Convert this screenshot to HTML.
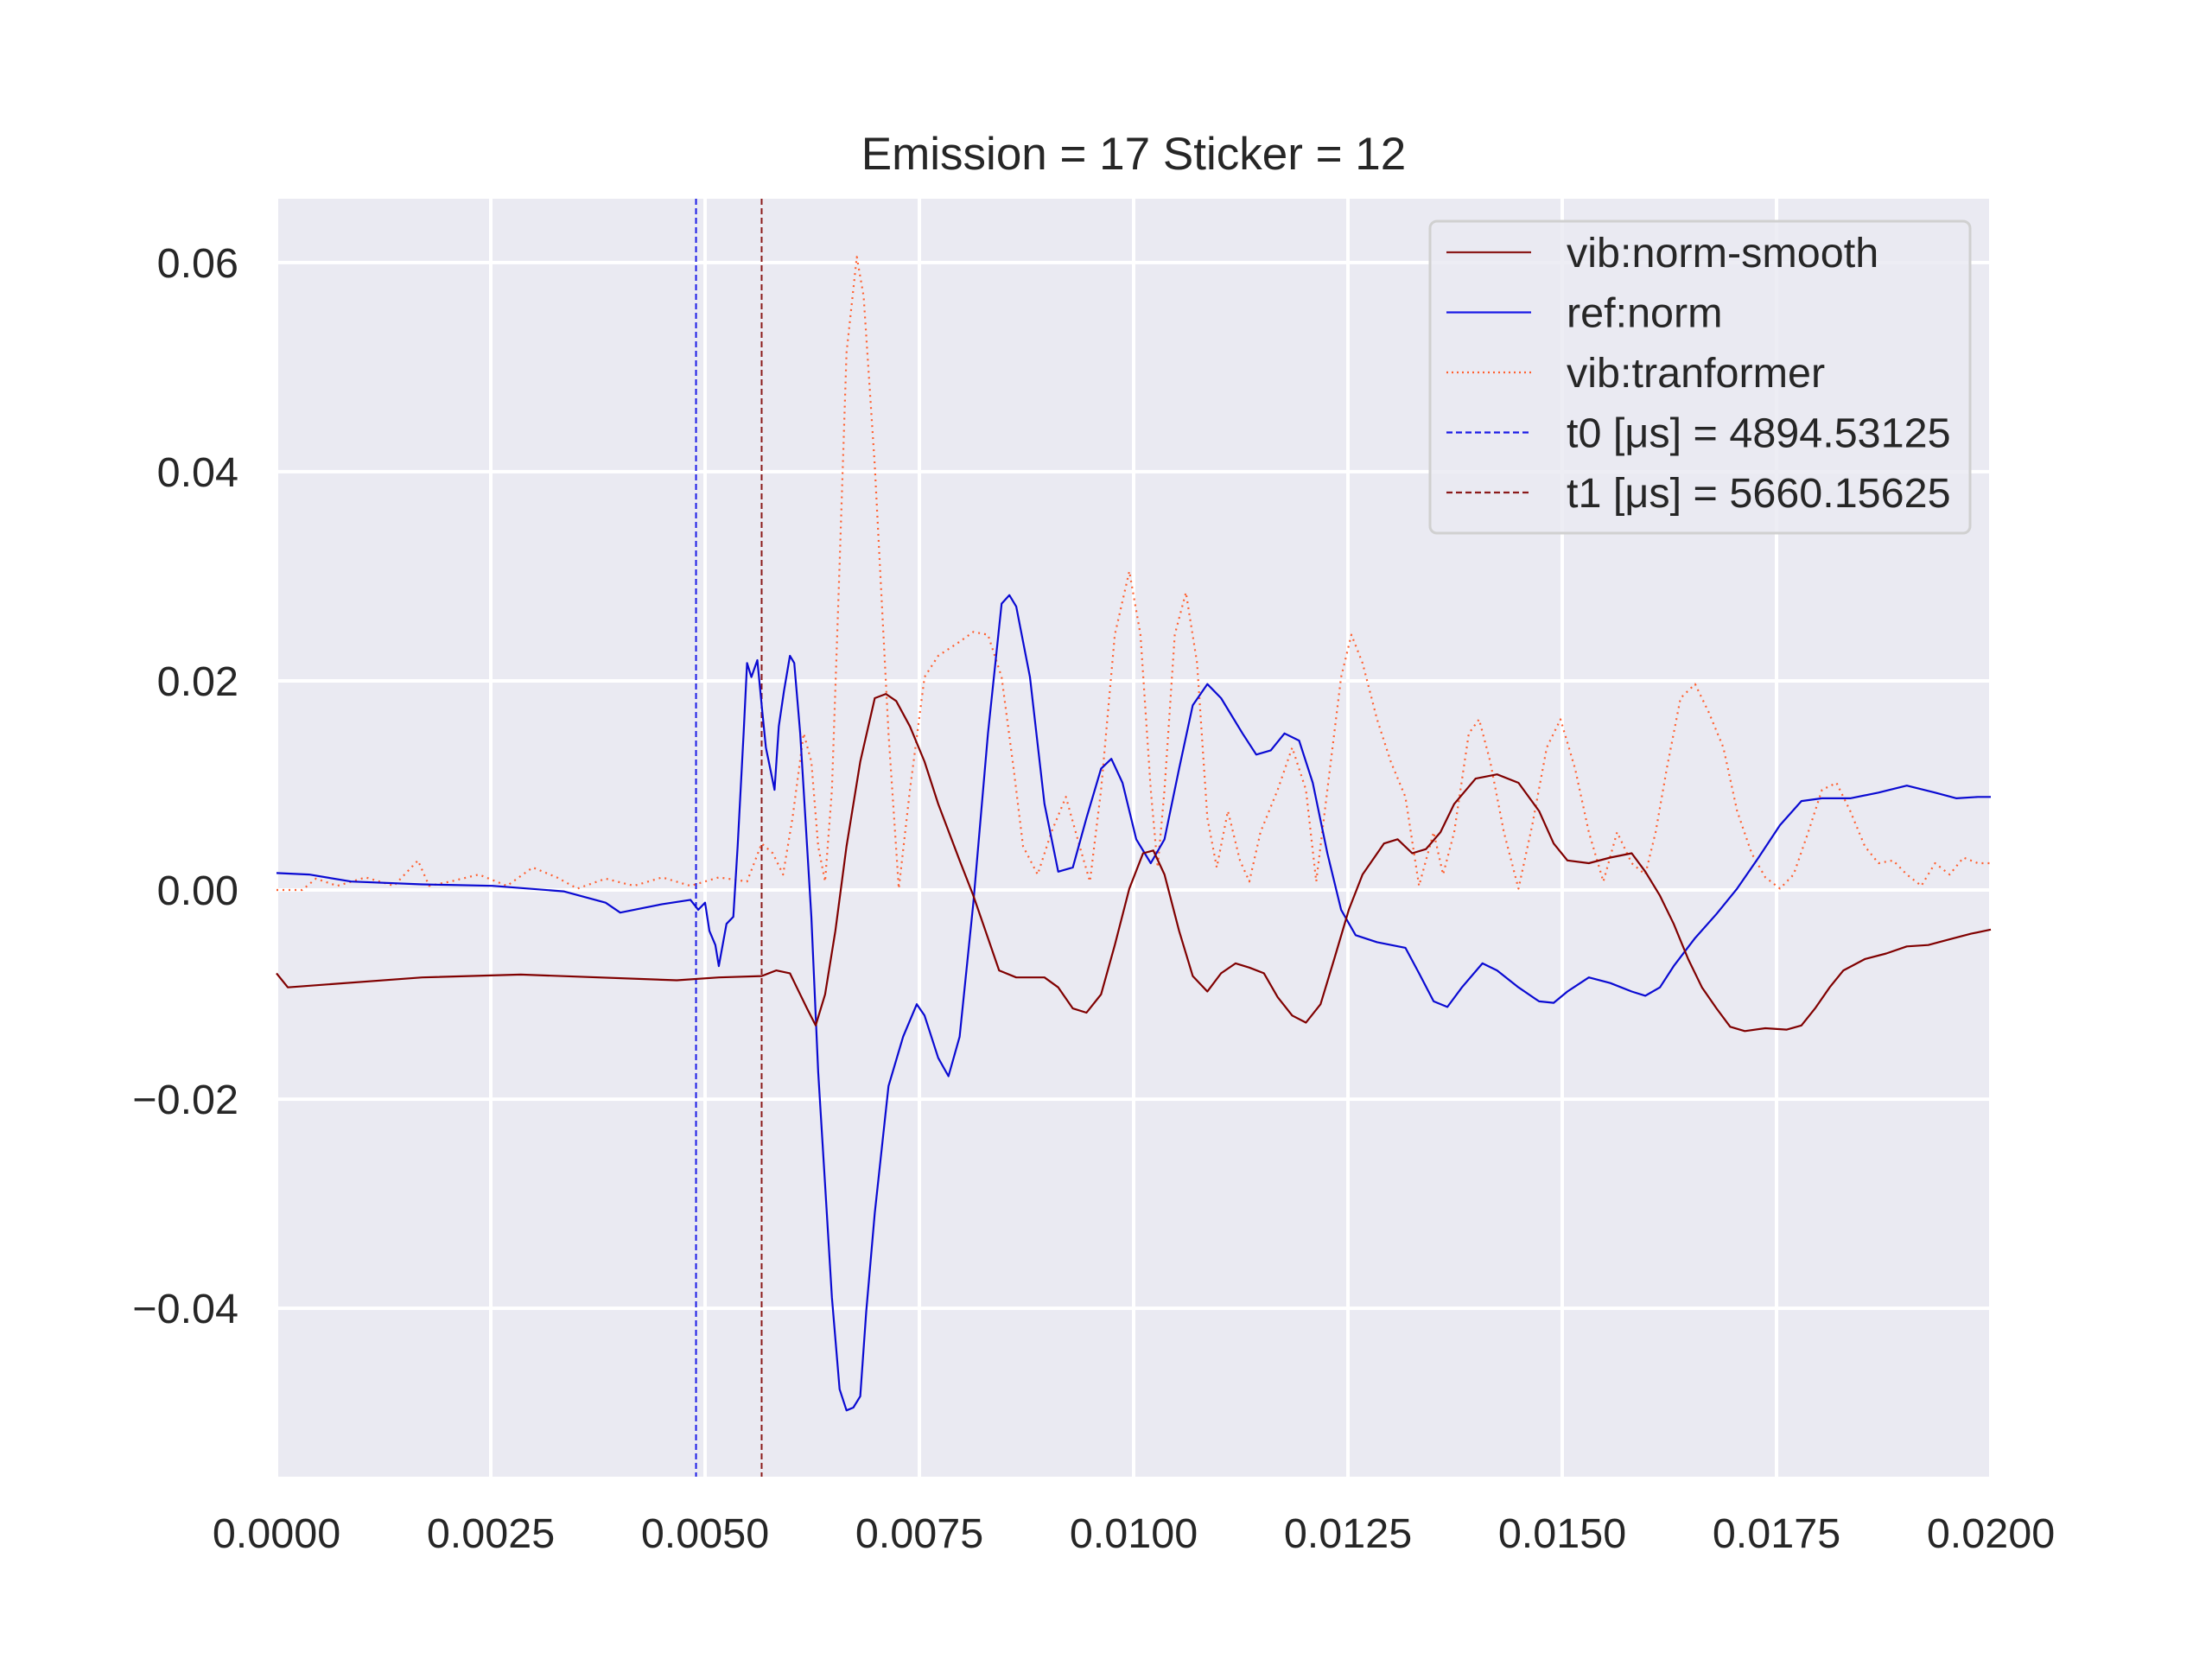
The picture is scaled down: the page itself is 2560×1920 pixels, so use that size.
<!DOCTYPE html>
<html><head><meta charset="utf-8"><style>
html,body{margin:0;padding:0;background:#fff;}
svg{display:block;font-family:"Liberation Sans",sans-serif;}
</style></head><body>
<svg id="chart" width="2560" height="1920" viewBox="0 0 2560 1920" xmlns="http://www.w3.org/2000/svg">
<rect width="2560" height="1920" fill="#fff"/>
<text x="1312" y="196" font-size="53" fill="#262626" text-anchor="middle">Emission = 17 Sticker = 12</text>
<rect x="320" y="230" width="1984" height="1479" fill="#EAEAF2"/>
<g id="grid"></g>
<g id="ticks"></g>
<g id="series"></g>
<g id="legend"></g>
</svg>
<script>
// x values in milliseconds, y values in units of 1e-3
const smoothX=[0,0.132,1.70,2.85,4.67,5.16,5.66,5.83,5.99,6.07,6.19,6.29,6.40,6.52,6.65,6.81,6.98,7.11,7.23,7.39,7.56,7.72,7.97,8.13,8.30,8.43,8.63,8.96,9.12,9.29,9.45,9.62,9.78,9.95,10.11,10.23,10.36,10.53,10.69,10.86,11.02,11.19,11.35,11.52,11.68,11.85,12.01,12.18,12.34,12.51,12.67,12.92,13.08,13.25,13.41,13.58,13.74,13.99,14.24,14.49,14.73,14.90,15.06,15.31,15.56,15.81,15.97,16.14,16.30,16.47,16.63,16.80,16.96,17.13,17.37,17.62,17.79,17.95,18.12,18.28,18.53,18.78,19.02,19.27,19.52,19.77,20.0];
const smoothY=[-7.96,-9.31,-8.36,-8.09,-8.63,-8.36,-8.23,-7.69,-7.96,-9.31,-11.33,-12.95,-9.98,-3.91,4.18,12.27,18.34,18.75,18.07,15.64,12.27,8.23,2.83,-0.54,-4.59,-7.69,-8.36,-8.36,-9.31,-11.33,-11.73,-9.98,-5.26,0.13,3.51,3.78,1.48,-3.91,-8.23,-9.71,-7.96,-7.01,-7.42,-7.96,-10.25,-12.00,-12.68,-10.92,-6.61,-1.89,1.48,4.45,4.85,3.51,3.91,5.53,8.23,10.65,11.06,10.25,7.55,4.45,2.83,2.56,3.10,3.51,1.75,-0.54,-3.24,-6.61,-9.31,-11.33,-13.08,-13.49,-13.22,-13.35,-12.95,-11.33,-9.31,-7.69,-6.61,-6.07,-5.39,-5.26,-4.72,-4.18,-3.78];
const refX=[0,0.38,0.87,1.70,2.52,3.35,3.84,4.01,4.26,4.50,4.83,4.92,5.00,5.05,5.12,5.16,5.25,5.33,5.38,5.45,5.49,5.54,5.61,5.66,5.71,5.76,5.81,5.86,5.92,5.99,6.04,6.11,6.15,6.24,6.32,6.40,6.48,6.57,6.65,6.73,6.81,6.88,6.98,7.14,7.31,7.47,7.56,7.72,7.84,7.97,8.13,8.30,8.46,8.55,8.63,8.79,8.96,9.12,9.29,9.45,9.62,9.74,9.87,10.03,10.20,10.36,10.53,10.69,10.86,11.02,11.27,11.43,11.60,11.76,11.93,12.09,12.26,12.42,12.59,12.84,13.17,13.33,13.50,13.66,13.83,14.07,14.24,14.49,14.73,14.90,15.06,15.31,15.56,15.81,15.97,16.14,16.30,16.55,16.80,17.04,17.29,17.54,17.79,18.03,18.36,18.69,19.02,19.35,19.60,19.85,20.0];
const refY=[1.62,1.48,0.81,0.54,0.40,-0.13,-1.21,-2.16,-1.75,-1.35,-0.94,-1.89,-1.21,-3.91,-5.26,-7.28,-3.24,-2.56,4.18,14.97,21.71,20.36,21.98,17.67,13.62,11.60,9.58,15.64,19.02,22.39,21.71,14.97,9.58,-2.56,-17.40,-28.19,-38.97,-47.74,-49.76,-49.49,-48.41,-40.32,-30.88,-18.75,-14.03,-10.92,-12.00,-16.05,-17.80,-14.03,-1.21,14.97,27.38,28.19,27.11,20.36,8.23,1.75,2.16,6.88,11.60,12.54,10.25,4.85,2.56,4.85,11.60,17.67,19.69,18.34,14.97,12.95,13.35,14.97,14.29,10.25,3.51,-1.89,-4.32,-4.99,-5.53,-7.96,-10.65,-11.19,-9.31,-7.01,-7.69,-9.31,-10.65,-10.79,-9.71,-8.36,-8.90,-9.71,-10.11,-9.31,-7.28,-4.59,-2.29,0.13,3.10,6.20,8.50,8.77,8.77,9.31,9.98,9.31,8.77,8.90,8.90];
const trX=[0,0.30,0.46,0.71,1.04,1.37,1.65,1.78,2.03,2.36,2.69,2.99,3.27,3.51,3.84,4.17,4.50,4.83,5.16,5.49,5.66,5.79,5.91,6.02,6.15,6.24,6.32,6.40,6.48,6.57,6.65,6.77,6.85,6.98,7.14,7.26,7.39,7.56,7.72,7.97,8.13,8.30,8.46,8.60,8.71,8.88,9.04,9.21,9.37,9.49,9.62,9.78,9.95,10.08,10.20,10.28,10.36,10.48,10.61,10.74,10.86,10.97,11.10,11.24,11.35,11.48,11.68,11.85,12.01,12.13,12.26,12.42,12.54,12.67,12.84,13.00,13.17,13.33,13.50,13.61,13.74,13.91,14.03,14.16,14.32,14.49,14.65,14.82,14.98,15.15,15.31,15.48,15.64,15.81,15.97,16.09,16.22,16.38,16.55,16.71,16.88,17.04,17.21,17.37,17.54,17.70,17.87,18.03,18.20,18.36,18.53,18.69,18.86,19.02,19.19,19.35,19.52,19.68,19.85,20.0];
const trY=[0,0,1.08,0.40,1.21,0.40,2.83,0.40,0.81,1.48,0.40,2.16,1.21,0.13,1.08,0.40,1.21,0.40,1.21,0.81,4.45,3.51,1.48,6.88,14.97,12.27,4.18,0.81,9.58,31.15,51.38,60.55,56.78,40.59,14.97,0.13,9.58,20.36,22.39,23.74,24.68,24.41,20.36,11.60,4.18,1.48,5.53,8.90,4.18,0.81,9.58,24.41,30.48,24.41,9.58,2.16,9.58,24.41,28.46,21.71,6.88,2.16,7.55,2.83,0.81,5.53,9.58,13.62,9.58,0.81,9.58,20.36,24.41,21.71,16.32,12.27,8.90,0.40,5.53,1.48,5.53,14.97,16.32,12.27,5.53,0.13,6.20,13.62,16.32,11.60,5.53,0.81,5.53,2.56,1.48,5.53,11.60,18.34,19.69,16.99,13.62,7.55,3.51,1.21,0.13,1.48,5.53,9.58,10.25,7.55,4.18,2.56,2.83,1.48,0.40,2.56,1.48,3.10,2.56,2.56];
const xTicks=[0,0.0025,0.005,0.0075,0.01,0.0125,0.015,0.0175,0.02];
const xTickLabels=["0.0000","0.0025","0.0050","0.0075","0.0100","0.0125","0.0150","0.0175","0.0200"];
const yTicks=[-0.04,-0.02,0,0.02,0.04,0.06];
const yTickLabels=["\u22120.04","\u22120.02","0.00","0.02","0.04","0.06"];
const vlineValues=[4894.53125,5660.15625];
const legendLabels=["vib:norm-smooth","ref:norm","vib:tranformer","t0 [\u03bcs] = 4894.53125","t1 [\u03bcs] = 5660.15625"];

const L=320,R=2304,T=230,B=1709,XMIN=0,XMAX=0.02,YMIN=-0.0561,YMAX=0.0661;
function sx(v){return L+(v-XMIN)/(XMAX-XMIN)*(R-L);}
function sy(v){return B-(v-YMIN)/(YMAX-YMIN)*(B-T);}
const NS="http://www.w3.org/2000/svg";
function mk(tag,attrs,parent){const e=document.createElementNS(NS,tag);for(const k in attrs)e.setAttribute(k,attrs[k]);parent.appendChild(e);return e;}
const grid=document.getElementById('grid'),ticks=document.getElementById('ticks'),series=document.getElementById('series'),legend=document.getElementById('legend');
xTicks.forEach((v,i)=>{
  const g=mk('line',{x1:sx(v),x2:sx(v),y1:T,y2:B,stroke:'#fff','stroke-width':4},grid);
  
  
  const t=mk('text',{x:sx(v),y:1791,'font-size':48.5,fill:'#262626','text-anchor':'middle'},ticks);
  t.textContent=xTickLabels[i];
  
  
});
yTicks.forEach((v,i)=>{
  const g=mk('line',{x1:L,x2:R,y1:sy(v),y2:sy(v),stroke:'#fff','stroke-width':4},grid);
  
  
  const t=mk('text',{x:276,y:sy(v)+17,'font-size':48.5,fill:'#262626','text-anchor':'end'},ticks);
  t.textContent=yTickLabels[i];
  
  
});
function path(xs,ys,color,dash,name){
  let d='';
  for(let i=0;i<xs.length;i++){d+=(i?'L':'M')+sx(xs[i]*1e-3).toFixed(1)+' '+sy(ys[i]*1e-3).toFixed(1);}
  const p=mk('path',{d:d,fill:'none',stroke:color,'stroke-width':2.2,'stroke-linejoin':'round'},series);
  if(dash)p.setAttribute('stroke-dasharray',dash);
  
  
}
const vcols=['#1a1ae6','#8b1a1a'];
vlineValues.forEach((v,i)=>{
  const l=mk('line',{x1:sx(v*1e-6),x2:sx(v*1e-6),y1:T,y2:B,stroke:vcols[i],'stroke-width':2,'stroke-dasharray':'7 4'},series);
  
  
});
path(trX,trY,'#ff6030','2 5','vib-tranformer-line');
path(refX,refY,'#0a0ad2',null,'ref-norm-line');
path(smoothX,smoothY,'#800000',null,'vib-norm-smooth-line');
const lb=mk('rect',{x:1655,y:256,width:625,height:361,rx:8,fill:'#EAEAF2','fill-opacity':0.85,stroke:'#d0d0d0','stroke-width':3},legend);


const lcols=['#8b1a1a','#1a1ae6','#ff6030','#1a1ae6','#8b1a1a'];
const ldash=[null,null,'2 4','7 4','7 4'];
const lnames=['legend-entry-vib-norm-smooth','legend-entry-ref-norm','legend-entry-vib-tranformer','legend-entry-t0','legend-entry-t1'];
legendLabels.forEach((s,i)=>{
  const y=292+i*69.5;
  const l=mk('line',{x1:1674,x2:1772,y1:y,y2:y,stroke:lcols[i],'stroke-width':2.2},legend);
  if(ldash[i])l.setAttribute('stroke-dasharray',ldash[i]);
  
  
  const t=mk('text',{x:1813,y:y+17,'font-size':48.5,fill:'#262626'},legend);
  t.textContent=s;
  
  
});
</script>
</body></html>
